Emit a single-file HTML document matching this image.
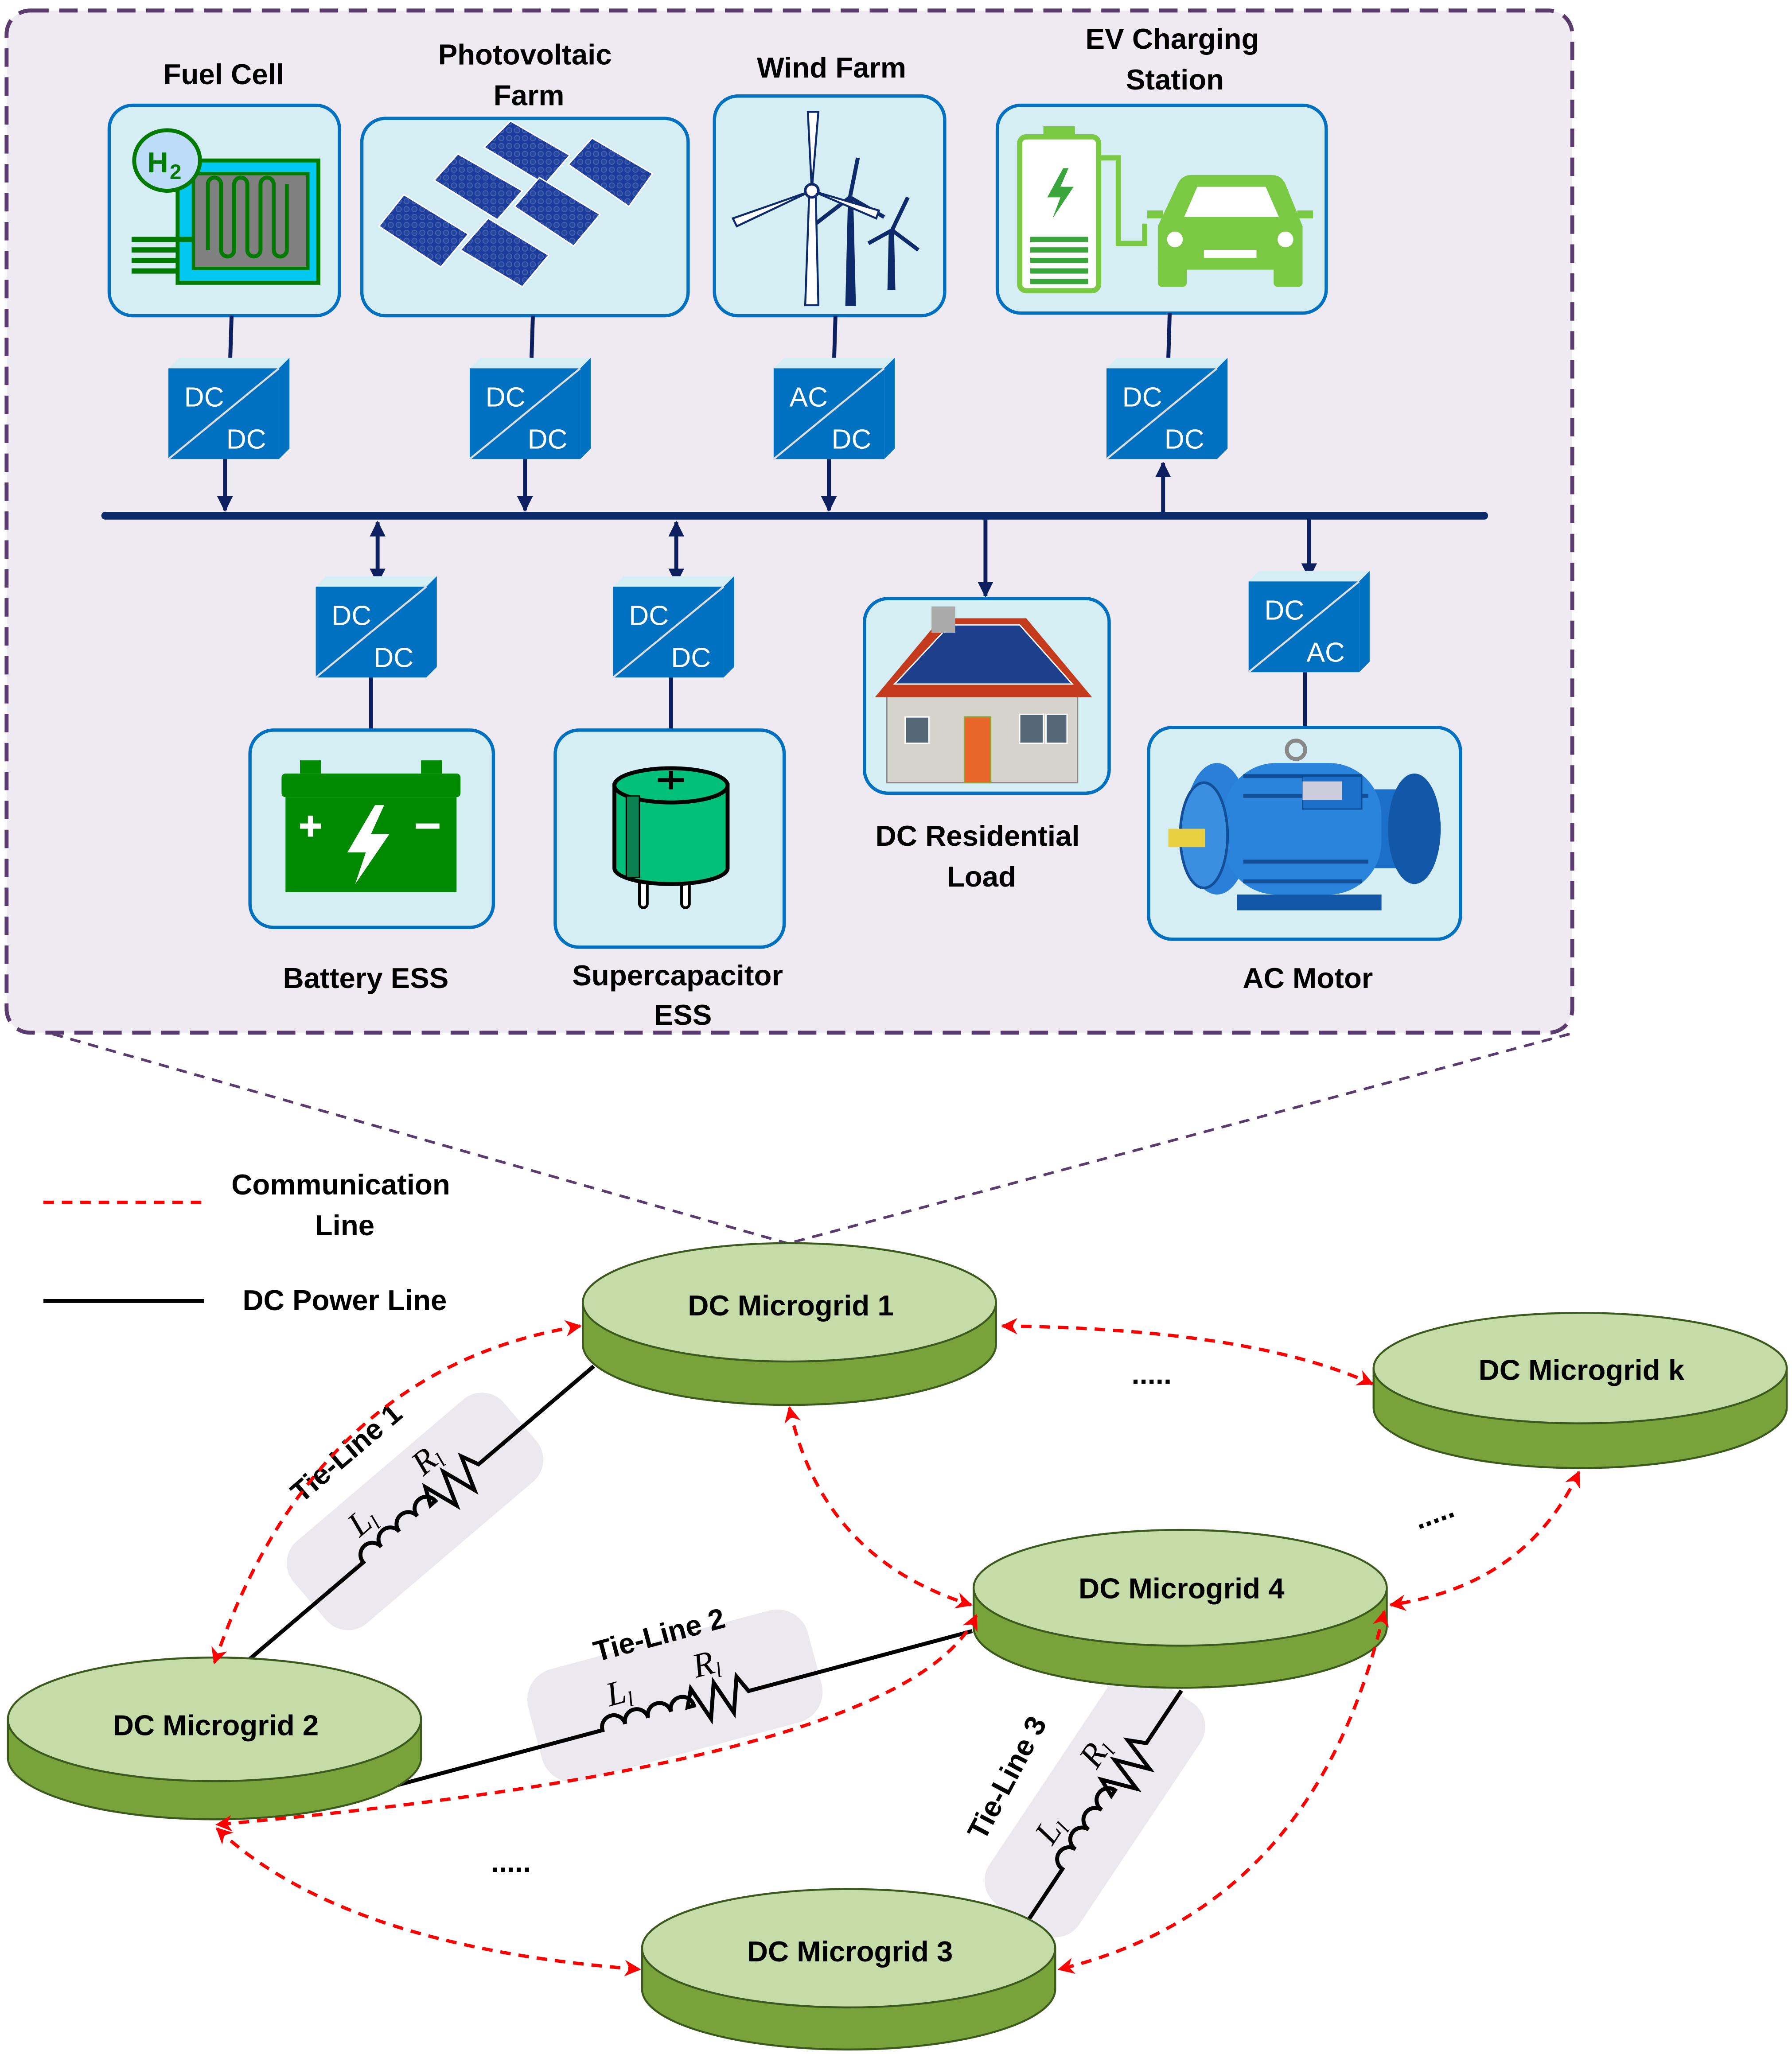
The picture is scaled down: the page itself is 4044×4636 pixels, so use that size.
<!DOCTYPE html>
<html><head><meta charset="utf-8"><style>
html,body{margin:0;padding:0;background:#fff}
svg{display:block}
text{font-family:"Liberation Sans",sans-serif}
.lb{font-size:22px;font-weight:bold;fill:#000;text-anchor:middle}
.mg{font-size:22px;font-weight:bold;fill:#000;text-anchor:middle}
.cv{font-size:21px;fill:#fff}
.box{fill:#d5eef3;stroke:#0070c0;stroke-width:2.5}
.nv{stroke:#0d1f5e;stroke-width:3;fill:none}
.red{stroke:#ff0000;stroke-width:2.5;fill:none;stroke-dasharray:8,6}
.it{font-family:"Liberation Serif",serif;font-style:italic;font-size:26px}
</style></head><body>
<svg width="4044" height="4636" viewBox="0 0 1362 1561.4" preserveAspectRatio="none" xmlns="http://www.w3.org/2000/svg">
<defs>
<marker id="an" viewBox="0 0 10 10" refX="9" refY="5" markerWidth="4" markerHeight="4" orient="auto-start-reverse"><path d="M0,0 L10,5 L0,10 z" fill="#0d1f5e"/></marker>
<marker id="ar" viewBox="0 0 10 10" refX="9" refY="5" markerWidth="5" markerHeight="5" orient="auto-start-reverse"><path d="M0,0 L10,5 L0,10 L3,5 z" fill="#ff0000"/></marker>
<g id="conv">
<polygon points="0,8 8,0 92,0 84,8" fill="#d5eef3"/>
<polygon points="84,8 92,0 92,69 84,77" fill="#0070c0"/>
<rect x="0" y="8" width="84" height="69" fill="#0070c0"/>
<line x1="0" y1="77" x2="84" y2="8" stroke="#ddd" stroke-width="1.5"/>
</g>
<pattern id="pv" width="6" height="6" patternUnits="userSpaceOnUse"><rect width="6" height="6" fill="#1c3c9c"/><circle cx="3" cy="3" r="2" fill="#25479f" stroke="#4b64b0" stroke-width="0.6"/></pattern>
</defs>

<rect x="5" y="8" width="1190" height="777" rx="18" fill="#efe9f2" stroke="#5a3d6e" stroke-width="3" stroke-dasharray="14,8"/>
<line x1="40" y1="786" x2="598" y2="945" stroke="#5a3d6e" stroke-width="2" stroke-dasharray="8,6"/>
<line x1="1193" y1="786" x2="600" y2="945" stroke="#5a3d6e" stroke-width="2" stroke-dasharray="8,6"/>

<text class="lb" x="170" y="64">Fuel Cell</text>
<text class="lb" x="399" y="49">Photovoltaic</text>
<text class="lb" x="402" y="80">Farm</text>
<text class="lb" x="632" y="59">Wind Farm</text>
<text class="lb" x="891" y="37">EV Charging</text>
<text class="lb" x="893" y="68">Station</text>

<rect class="box" x="83" y="80" width="175" height="160" rx="18"/>
<rect class="box" x="275" y="90" width="248" height="150" rx="18"/>
<rect class="box" x="543" y="73" width="175" height="167" rx="18"/>
<rect class="box" x="758" y="80" width="250" height="158" rx="18"/>

<rect x="135" y="122" width="107" height="93" fill="#00c8f0" stroke="#007a00" stroke-width="3"/>
<rect x="147" y="132" width="87" height="72" fill="#808080" stroke="#007a00" stroke-width="2.5"/>
<path d="M158,190 V140 a5,5 0 0 1 10,0 V190 a5,5 0 0 0 10,0 V140 a5,5 0 0 1 10,0 V190 a5,5 0 0 0 10,0 V140 a5,5 0 0 1 10,0 V190 a5,5 0 0 0 10,0 V140" fill="none" stroke="#007a00" stroke-width="3"/>
<rect x="100" y="180" width="48" height="4" fill="#007a00"/>
<rect x="100" y="188" width="35" height="4" fill="#007a00"/>
<rect x="100" y="196" width="35" height="4" fill="#007a00"/>
<rect x="100" y="204" width="35" height="4" fill="#007a00"/>
<ellipse cx="127" cy="122" rx="25" ry="23" fill="#bcdcf8" stroke="#007a00" stroke-width="3"/>
<text x="112" y="131" font-size="22" font-weight="bold" fill="#007a00">H</text>
<text x="129" y="136" font-size="16" font-weight="bold" fill="#007a00">2</text>

<g fill="url(#pv)" stroke="#fff" stroke-width="1">
<polygon points="288,172 307,148 356,178 335,203"/>
<polygon points="330,137 348,117 397,145 378,167"/>
<polygon points="368,112 388,92 433,118 414,140"/>
<polygon points="350,190 371,166 417,194 397,218"/>
<polygon points="391,157 410,135 456,163 436,187"/>
<polygon points="432,125 450,105 496,132 478,157"/>
</g>

<g stroke="#0d2a6b" fill="#0d2a6b">
<polygon points="643,232 650,232 648,150 645,150"/>
<polygon points="675,220 680,220 679,175 676,175"/>
</g>
<g stroke="#0d2a6b" stroke-width="3" fill="none">
<path d="M646,150 L652,120 M646,150 L620,170 M646,150 L672,165"/>
<path d="M678,175 L690,150 M678,175 L660,185 M678,175 L698,190"/>
</g>
<polygon points="612,232 622,232 620,148 615,148" fill="#fff" stroke="#0d2a6b" stroke-width="1.5"/>
<g stroke="#0d2a6b" stroke-width="1.5" fill="#fff">
<path d="M617,145 L614,85 L622,85 Z"/>
<path d="M617,145 L560,172 L557,166 Z"/>
<path d="M617,145 L668,160 L666,166 Z"/>
</g>
<circle cx="617" cy="145" r="5" fill="#fff" stroke="#0d2a6b" stroke-width="2"/>

<rect x="775" y="104" width="60" height="117" rx="5" fill="#fff" stroke="#7ac943" stroke-width="4"/>
<rect x="793" y="96" width="24" height="8" fill="#7ac943"/>
<polygon points="808,128 796,150 806,150 800,166 816,142 806,142 812,128" fill="#3aa53a"/>
<g fill="#3aa53a"><rect x="783" y="180" width="44" height="4"/><rect x="783" y="188" width="44" height="4"/><rect x="783" y="196" width="44" height="4"/><rect x="783" y="204" width="44" height="4"/><rect x="783" y="212" width="44" height="4"/></g>
<path d="M835,120 H850 V185 H870 V170" fill="none" stroke="#7ac943" stroke-width="4"/>
<path d="M880,205 V172 L895,140 Q898,133 906,133 H966 Q974,133 977,140 L990,172 V205 Z" fill="#7ac943"/>
<rect x="880" y="200" width="22" height="18" rx="3" fill="#7ac943"/><rect x="968" y="200" width="22" height="18" rx="3" fill="#7ac943"/>
<polygon points="900,165 910,142 962,142 972,165" fill="#fff"/>
<circle cx="893" cy="182" r="6" fill="#fff"/><circle cx="977" cy="182" r="6" fill="#fff"/>
<rect x="915" y="190" width="40" height="6" fill="#fff"/>
<rect x="872" y="160" width="12" height="6" fill="#7ac943"/><rect x="986" y="160" width="12" height="6" fill="#7ac943"/>

<use href="#conv" x="128" y="272"/><text class="cv" x="140" y="309">DC</text><text class="cv" x="172" y="341">DC</text>
<use href="#conv" x="357" y="272"/><text class="cv" x="369" y="309">DC</text><text class="cv" x="401" y="341">DC</text>
<use href="#conv" x="588" y="272"/><text class="cv" x="600" y="309">AC</text><text class="cv" x="632" y="341">DC</text>
<use href="#conv" x="841" y="272"/><text class="cv" x="853" y="309">DC</text><text class="cv" x="885" y="341">DC</text>

<g class="nv">
<line x1="176" y1="240" x2="175" y2="272"/>
<line x1="405" y1="240" x2="404" y2="272"/>
<line x1="635" y1="240" x2="634" y2="272"/>
<line x1="889" y1="238" x2="888" y2="272"/>
<line x1="171" y1="349" x2="171" y2="388" marker-end="url(#an)"/>
<line x1="399" y1="349" x2="399" y2="388" marker-end="url(#an)"/>
<line x1="630" y1="349" x2="630" y2="388" marker-end="url(#an)"/>
<line x1="884" y1="392" x2="884" y2="352" marker-end="url(#an)"/>
<line x1="287" y1="397" x2="287" y2="443" marker-start="url(#an)" marker-end="url(#an)"/>
<line x1="514" y1="397" x2="514" y2="443" marker-start="url(#an)" marker-end="url(#an)"/>
<line x1="749" y1="392" x2="749" y2="453" marker-end="url(#an)"/>
<line x1="995" y1="392" x2="995" y2="439" marker-end="url(#an)"/>
<line x1="282" y1="515" x2="282" y2="555"/>
<line x1="510" y1="515" x2="510" y2="555"/>
<line x1="992" y1="511" x2="992" y2="553"/>
</g>
<line x1="80" y1="392" x2="1128" y2="392" stroke="#0d2a6b" stroke-width="6" stroke-linecap="round"/>

<use href="#conv" x="240" y="438"/><text class="cv" x="252" y="475">DC</text><text class="cv" x="284" y="507">DC</text>
<use href="#conv" x="466" y="438"/><text class="cv" x="478" y="475">DC</text><text class="cv" x="510" y="507">DC</text>
<use href="#conv" x="949" y="434"/><text class="cv" x="961" y="471">DC</text><text class="cv" x="993" y="503">AC</text>

<rect class="box" x="190" y="555" width="185" height="150" rx="18"/>
<rect class="box" x="422" y="555" width="174" height="165" rx="18"/>
<rect class="box" x="657" y="455" width="186" height="148" rx="18"/>
<rect class="box" x="873" y="553" width="237" height="161" rx="18"/>

<rect x="228" y="578" width="16" height="10" fill="#008a00"/><rect x="320" y="578" width="16" height="10" fill="#008a00"/>
<rect x="214" y="588" width="136" height="18" rx="3" fill="#008a00"/>
<rect x="217" y="606" width="130" height="72" fill="#008a00"/>
<path d="M228,628 h16 M236,620 v16 M316,628 h18" stroke="#fff" stroke-width="4"/>
<polygon points="285,612 264,648 278,648 270,672 296,634 282,634 292,612" fill="#fff"/>

<rect x="486" y="660" width="6" height="30" rx="3" fill="#fff" stroke="#000" stroke-width="2"/>
<rect x="518" y="660" width="6" height="30" rx="3" fill="#fff" stroke="#000" stroke-width="2"/>
<path d="M467,597 V660 A43,12 0 0 0 553,660 V597 Z" fill="#00c07a" stroke="#000" stroke-width="3"/>
<ellipse cx="510" cy="597" rx="43" ry="13" fill="#00c07a" stroke="#000" stroke-width="3"/>
<path d="M500,593 h20 M510,586 v14" stroke="#000" stroke-width="3"/>
<rect x="476" y="605" width="10" height="62" fill="#0a8050" stroke="#000" stroke-width="1"/>

<polygon points="672,528 740,490 822,528" fill="#d84a2a"/>
<rect x="674" y="525" width="145" height="70" fill="#d6d3cc" stroke="#888"/>
<polygon points="665,530 715,470 780,470 830,530" fill="#c43a1c"/>
<polygon points="680,520 722,475 775,475 815,520" fill="#1d3f8c" stroke="#fff" stroke-width="1"/>
<rect x="708" y="461" width="18" height="20" fill="#aaa"/>
<rect x="688" y="545" width="18" height="20" fill="#567" stroke="#fff"/>
<rect x="733" y="545" width="20" height="50" fill="#e8662a" stroke="#8a3"/>
<rect x="775" y="543" width="18" height="22" fill="#567" stroke="#fff"/><rect x="795" y="543" width="16" height="22" fill="#567" stroke="#fff"/>

<rect x="950" y="600" width="120" height="60" rx="10" fill="#1c6fc8"/>
<ellipse cx="925" cy="630" rx="25" ry="50" fill="#2a7fd6"/>
<ellipse cx="1075" cy="630" rx="20" ry="42" fill="#1358a8"/>
<rect x="930" y="580" width="120" height="100" rx="40" fill="#2a84dc"/>
<g stroke="#124f98" stroke-width="3"><line x1="945" y1="590" x2="1035" y2="590"/><line x1="945" y1="605" x2="1040" y2="605"/><line x1="945" y1="655" x2="1040" y2="655"/><line x1="945" y1="670" x2="1035" y2="670"/></g>
<rect x="990" y="590" width="45" height="25" fill="#1c6fc8" stroke="#0d4e98"/>
<rect x="990" y="594" width="30" height="14" fill="#ccd"/>
<ellipse cx="915" cy="635" rx="18" ry="40" fill="#3b8fe0" stroke="#124f98" stroke-width="2"/>
<rect x="888" y="630" width="28" height="14" fill="#e8d040"/>
<rect x="940" y="680" width="110" height="12" fill="#1358a8"/>
<circle cx="985" cy="570" r="7" fill="none" stroke="#888" stroke-width="3"/>

<text class="lb" x="278" y="751">Battery ESS</text>
<text class="lb" x="515" y="749">Supercapacitor</text>
<text class="lb" x="519" y="779">ESS</text>
<text class="lb" x="743" y="643">DC Residential</text>
<text class="lb" x="746" y="674">Load</text>
<text class="lb" x="994" y="751">AC Motor</text>

<line x1="33" y1="914" x2="155" y2="914" class="red"/>
<text class="lb" x="259" y="908">Communication</text>
<text class="lb" x="262" y="939">Line</text>
<line x1="33" y1="989" x2="155" y2="989" stroke="#000" stroke-width="3"/>
<text class="lb" x="262" y="996">DC Power Line</text>

<g transform="translate(318,1152) rotate(-40.4)">
<rect x="-105" y="-45" width="210" height="82" rx="22" fill="#ece8f0"/>
<path d="M-175,0 H-55 a9,9 0 0 1 18,0 a9,9 0 0 1 18,0 a9,9 0 0 1 18,0 a9,9 0 0 1 18,0 H12 l6,-13 l9,26 l9,-26 l9,26 l9,-26 l6,13 H175" fill="none" stroke="#000" stroke-width="3"/>
<text class="it" x="-45" y="-16">L<tspan font-size="16" dy="4">l</tspan></text>
<text class="it" x="22" y="-20">R<tspan font-size="16" dy="4">l</tspan></text>
</g>
<text x="268" y="1110" transform="rotate(-40.4 268 1110)" class="lb" style="font-size:22px">Tie-Line 1</text>

<g transform="translate(511,1301) rotate(-15)">
<rect x="-105" y="-55" width="220" height="88" rx="24" fill="#ece8f0"/>
<path d="M-236,0 H-55 a9,9 0 0 1 18,0 a9,9 0 0 1 18,0 a9,9 0 0 1 18,0 a9,9 0 0 1 18,0 H12 l6,-13 l9,26 l9,-26 l9,26 l9,-26 l6,13 H236" fill="none" stroke="#000" stroke-width="3"/>
<text class="it" x="-45" y="-16">L<tspan font-size="16" dy="4">l</tspan></text>
<text class="it" x="24" y="-20">R<tspan font-size="16" dy="4">l</tspan></text>
</g>
<text x="503" y="1250" transform="rotate(-15 503 1250)" class="lb" style="font-size:22px">Tie-Line 2</text>

<g transform="translate(838,1375) rotate(-56.3)">
<rect x="-105" y="-48" width="210" height="82" rx="22" fill="#ece8f0"/>
<path d="M-108,0 H-55 a9,9 0 0 1 18,0 a9,9 0 0 1 18,0 a9,9 0 0 1 18,0 a9,9 0 0 1 18,0 H12 l6,-13 l9,26 l9,-26 l9,26 l9,-26 l6,13 H108" fill="none" stroke="#000" stroke-width="3"/>
<text class="it" x="-45" y="-16">L<tspan font-size="16" dy="4">l</tspan></text>
<text class="it" x="22" y="-20">R<tspan font-size="16" dy="4">l</tspan></text>
</g>
<text x="772" y="1355" transform="rotate(-62 772 1355)" class="lb" style="font-size:22px">Tie-Line 3</text>

<g stroke="#3d5a1e" stroke-width="1.5">
<path d="M443,990 V1022 A157,46 0 0 0 757,1022 V990 Z" fill="#77a33a"/><ellipse cx="600" cy="990" rx="157" ry="45" fill="#c6dca8"/>
<path d="M1044,1040 V1070 A157,46 0 0 0 1358,1070 V1040 Z" fill="#77a33a"/><ellipse cx="1201" cy="1040" rx="157" ry="42" fill="#c6dca8"/>
<path d="M740,1207 V1237 A157,46 0 0 0 1054,1237 V1207 Z" fill="#77a33a"/><ellipse cx="897" cy="1207" rx="157" ry="44" fill="#c6dca8"/>
<path d="M6,1307 V1336 A157,47 0 0 0 320,1336 V1307 Z" fill="#77a33a"/><ellipse cx="163" cy="1307" rx="157" ry="47" fill="#c6dca8"/>
<path d="M488,1481 V1512 A157,46 0 0 0 802,1512 V1481 Z" fill="#77a33a"/><ellipse cx="645" cy="1481" rx="157" ry="45" fill="#c6dca8"/>
</g>
<text class="mg" x="601" y="1000">DC Microgrid 1</text>
<text class="mg" x="1202" y="1049">DC Microgrid k</text>
<text class="mg" x="898" y="1215">DC Microgrid 4</text>
<text class="mg" x="164" y="1319">DC Microgrid 2</text>
<text class="mg" x="646" y="1491">DC Microgrid 3</text>

<path class="red" d="M441,1008 Q240,1040 163,1264" marker-start="url(#ar)" marker-end="url(#ar)"/>
<path class="red" d="M762,1008 Q950,1010 1043,1052" marker-start="url(#ar)" marker-end="url(#ar)"/>
<path class="red" d="M600,1070 Q625,1185 738,1220" marker-start="url(#ar)" marker-end="url(#ar)"/>
<path class="red" d="M742,1228 Q690,1340 165,1387" marker-start="url(#ar)" marker-end="url(#ar)"/>
<path class="red" d="M1200,1119 Q1160,1205 1057,1220" marker-start="url(#ar)" marker-end="url(#ar)"/>
<path class="red" d="M1052,1225 Q1000,1450 805,1497" marker-start="url(#ar)" marker-end="url(#ar)"/>
<path class="red" d="M165,1390 Q260,1480 486,1497" marker-start="url(#ar)" marker-end="url(#ar)"/>

<text x="860" y="1052" font-size="22" font-weight="bold">.....</text>
<text x="1075" y="1158" font-size="22" font-weight="bold" transform="rotate(-20 1090 1152)">.....</text>
<text x="373" y="1423" font-size="22" font-weight="bold">.....</text>
</svg>
</body></html>
